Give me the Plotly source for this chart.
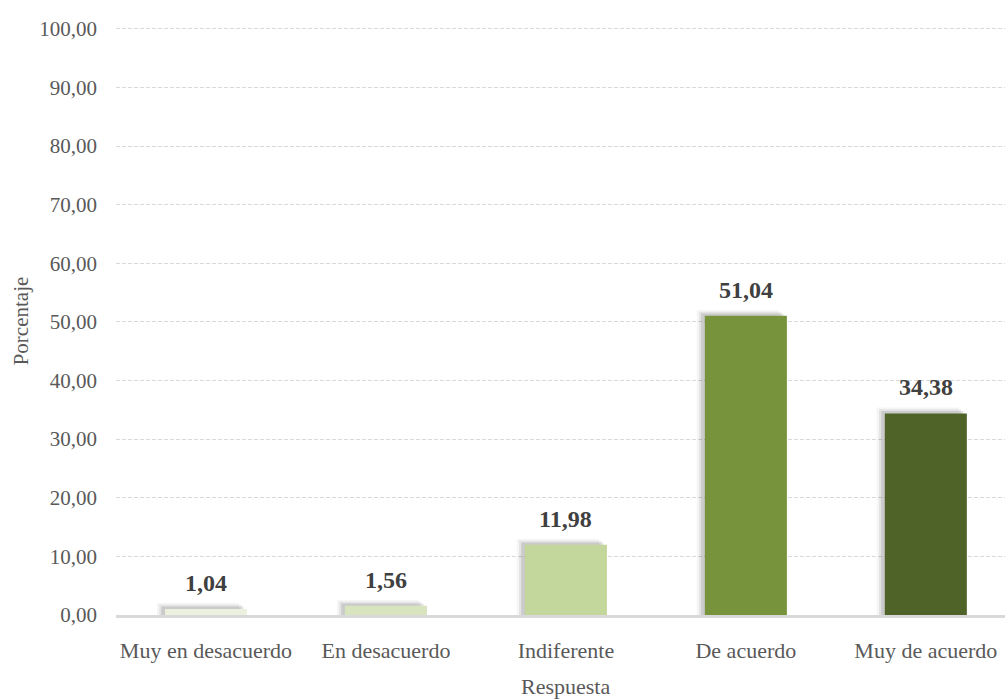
import plotly.graph_objects as go

categories = ["Muy en desacuerdo", "En desacuerdo", "Indiferente", "De acuerdo", "Muy de acuerdo"]
values = [1.04, 1.56, 11.98, 51.04, 34.38]
bar_colors = ["#EBF1DE", "#D7E4BD", "#C3D69B", "#77933C", "#4F6228"]
y_ticks = [0, 10, 20, 30, 40, 50, 60, 70, 80, 90, 100]

FONT = "Liberation Serif, Times New Roman, serif"
W = 0.456

fig = go.Figure()

# soft shadow layers (left/top)
for dx, dy, a in [(0.045, 1.0, 0.04), (0.032, 0.7, 0.07), (0.02, 0.4, 0.11)]:
    fig.add_trace(go.Bar(
        x=categories, y=[v + dy for v in values],
        width=W, offset=-W / 2 - dx,
        marker=dict(color=f"rgba(0,0,0,{a})", line=dict(width=0)),
        hoverinfo="skip", showlegend=False,
    ))

fig.add_trace(go.Bar(
    x=categories, y=values,
    width=W, offset=-W / 2,
    marker=dict(color=bar_colors, line=dict(width=0)),
    showlegend=False,
))

for c, v in zip(categories, values):
    fig.add_annotation(
        x=c, y=v, xref="x", yref="y",
        text=f"{v:.2f}".replace(".", ","),
        showarrow=False, yanchor="bottom", yshift=11,
        font=dict(family=FONT, size=24, color="#404040", weight="bold"),
    )

fig.add_annotation(
    x=categories[2], xref="x", y=-0.122, yref="paper",
    text="Respuesta", showarrow=False, yanchor="middle",
    font=dict(family=FONT, size=22, color="#595959"),
)

fig.update_layout(
    width=1005, height=699,
    margin=dict(l=116, r=0, t=27, b=84),
    paper_bgcolor="white", plot_bgcolor="white",
    barmode="overlay",
    separators=",.",
    font=dict(family=FONT, size=21, color="#595959"),
    xaxis=dict(
        type="category", range=[-0.5, 4.44],
        showgrid=False, showline=True, linecolor="#D9D9D9", linewidth=2.5,
        ticks="", ticklabelstandoff=14,
        tickfont=dict(family=FONT, size=22, color="#595959"),
    ),
    yaxis=dict(
        range=[0, 100.3], tickvals=y_ticks, tickformat=".2f",
        showgrid=True, gridcolor="#D9D9D9", griddash="4px,2px", gridwidth=1,
        zeroline=False, showline=False, ticks="", ticklabelstandoff=18,
        tickfont=dict(family=FONT, size=21, color="#595959"),
        title=dict(text="Porcentaje", standoff=4,
                   font=dict(family=FONT, size=21, color="#595959")),
    ),
)

fig.write_html("out.html", config={"displayModeBar": False},
               post_script="document.body.style.margin='0';document.body.style.padding='0';")
